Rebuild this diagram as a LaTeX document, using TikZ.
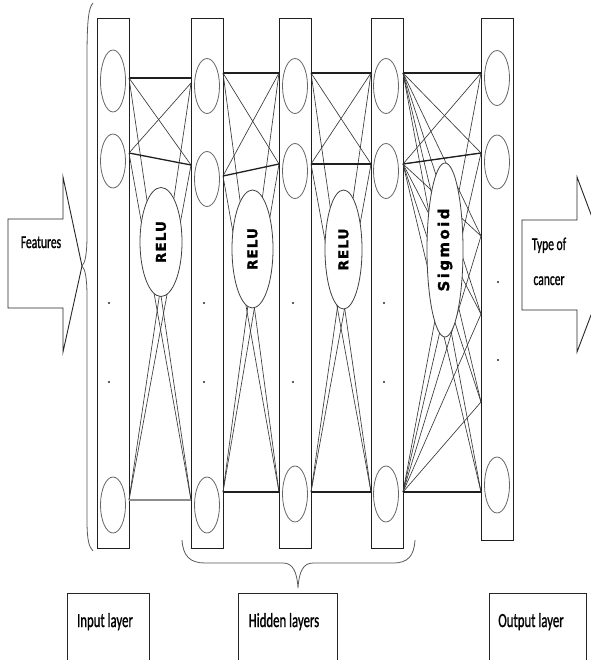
\documentclass[tikz,border=0pt]{standalone}
\usepackage{fontspec}
\usepackage{graphicx}
\usetikzlibrary{shapes.geometric}

% condensed label face and the spaced bold face for activation names
\newfontfamily\labelfont[FakeBold=1.4]{Carlito}
\newfontfamily\actfont[LetterSpace=8, FakeBold=1.2]{DejaVu Sans}
\newfontfamily\actfontwide[LetterSpace=16, FakeBold=1.2]{DejaVu Sans}
\newcommand{\lbl}[2][18]{\scalebox{0.64}[1]{\labelfont\fontsize{#1}{#1}\selectfont #2}}

\begin{document}
\begin{tikzpicture}[x=1pt,y=-1pt,
  colbox/.style={rectangle, draw=black!88, line width=0.9pt, inner sep=0pt, minimum width=32pt},
  neuron/.style={ellipse, draw=black!60, line width=0.8pt, inner sep=0pt, minimum width=25pt},
  act/.style={ellipse, draw=black!75, line width=0.8pt, fill=white, inner sep=0pt, rotate=90},
  link/.style={draw=black!78, line width=0.65pt},
  heavy/.style={draw=black!88, line width=1.3pt},
  dotmark/.style={circle, fill=black!85, inner sep=0pt, minimum size=2.2pt},
  brace/.style={draw=black!65, line width=0.8pt},
  boxed/.style={draw=black!85, line width=0.9pt},
  txt/.style={inner sep=0pt, anchor=base}]

\useasboundingbox (0,0) rectangle (590,660);

% ---------------- layer columns ----------------
\node[colbox, minimum height=530pt] (col1) at (113,283) {};
\node[colbox, minimum height=530pt] (col2) at (207,283) {};
\node[colbox, minimum height=530pt] (col3) at (295,283) {};
\node[colbox, minimum height=530pt] (col4) at (387,283) {};
\node[colbox, minimum height=522pt] (col5) at (497,279) {};

% ---------------- neurons ----------------
\node[neuron, minimum height=62pt] (n11) at (113,81) {};
\node[neuron, minimum height=54pt] (n12) at (113,161) {};
\node[neuron, minimum height=56pt] (n13) at (113,505) {};
\node[neuron, minimum height=55pt] (n21) at (207,86) {};
\node[neuron, minimum height=55pt] (n22) at (207,179) {};
\node[neuron, minimum height=56pt] (n23) at (207,505) {};
\node[neuron, minimum height=55pt] (n31) at (295,86) {};
\node[neuron, minimum height=55pt] (n32) at (295,171) {};
\node[neuron, minimum height=56pt] (n33) at (295,494) {};
\node[neuron, minimum height=55pt] (n41) at (386,86) {};
\node[neuron, minimum height=55pt] (n42) at (386,171) {};
\node[neuron, minimum height=56pt] (n43) at (386,494) {};
\node[neuron, minimum height=55pt] (n51) at (497,78) {};
\node[neuron, minimum height=54pt] (n52) at (497,162) {};
\node[neuron, minimum height=56pt] (n53) at (497,485) {};

% ellipsis dots inside the columns
\node[dotmark] (d11) at (109,303) {};
\node[dotmark] (d12) at (109,382) {};
\node[dotmark] (d21) at (204,303) {};
\node[dotmark] (d22) at (204,382) {};
\node[dotmark] (d31) at (293,303) {};
\node[dotmark] (d32) at (293,382) {};
\node[dotmark] (d41) at (384,303) {};
\node[dotmark] (d42) at (384,382) {};
\node[dotmark] (d51) at (498,282) {};
\node[dotmark] (d52) at (498,360) {};

% ---------------- connection ports on the column edges ----------------
\coordinate (a1) at (129,78);  \coordinate (a2) at (129,153); \coordinate (a3) at (129,500);
\coordinate (b0) at (191,78);  \coordinate (b1) at (191,83);  \coordinate (b2) at (191,165); \coordinate (b3) at (191,500);
\coordinate (c1) at (223,73);  \coordinate (c2) at (223,176); \coordinate (c3) at (223,492);
\coordinate (g1) at (279,73);  \coordinate (g2) at (279,164); \coordinate (g3) at (279,492);
\coordinate (h1) at (311,73);  \coordinate (h2) at (311,164); \coordinate (h3) at (311,492);
\coordinate (k1) at (371,73);  \coordinate (k2) at (371,164); \coordinate (k3) at (371,492);
\coordinate (e1) at (403,73);  \coordinate (e2) at (403,164); \coordinate (e3) at (403,492);
\coordinate (f1) at (481,73);  \coordinate (f2) at (481,153); \coordinate (f3) at (481,236);
\coordinate (f4) at (481,314); \coordinate (f5) at (481,402); \coordinate (f6) at (481,492);

% input -> hidden 1
\draw[link] (a1) -- (b2);
\draw[link] (a2) -- (b1);
\draw[link] (a1) -- (b3);
\draw[link] (a2) -- (b3);
\draw[link] (b1) -- (a3);
\draw[link] (b2) -- (a3);
\draw[heavy] (a1) -- (b0);
\draw[heavy] (a2) -- (b2);
\draw[draw=black!45, line width=2.6pt] (a3) -- (b3);

% hidden 1 -> hidden 2
\draw[link] (c1) -- (g2);
\draw[link] (c2) -- (g1);
\draw[link] (c1) -- (g3);
\draw[link] (c2) -- (g3);
\draw[link] (g1) -- (c3);
\draw[link] (g2) -- (c3);
\draw[heavy] (c1) -- (g1);
\draw[heavy] (c2) -- (g2);
\draw[heavy] (c3) -- (g3);

% hidden 2 -> hidden 3
\draw[link] (h1) -- (k2);
\draw[link] (h2) -- (k1);
\draw[link] (h1) -- (k3);
\draw[link] (h2) -- (k3);
\draw[link] (k1) -- (h3);
\draw[link] (k2) -- (h3);
\draw[heavy] (h1) -- (k1);
\draw[heavy] (h2) -- (k2);
\draw[heavy] (h3) -- (k3);

% hidden 3 -> output, fully connected
\foreach \s in {e1,e2,e3}
  \foreach \t in {f1,f2,f3,f4,f5,f6}
    \draw[link] (\s) -- (\t);
\draw[heavy] (e1) -- (f1);
\draw[heavy] (e2) -- (f2);
\draw[heavy] (e3) -- (f6);

% ---------------- activation functions ----------------
\node[act, minimum width=109pt, minimum height=42pt] (relu1) at (161,242)
  {\actfont\bfseries\fontsize{13.5}{13.5}\selectfont RELU};
\node[act, minimum width=118pt, minimum height=41pt] (relu2) at (252.5,249)
  {\actfont\bfseries\fontsize{13.5}{13.5}\selectfont RELU};
\node[act, minimum width=119pt, minimum height=37pt] (relu3) at (343.5,249.5)
  {\actfont\bfseries\fontsize{13.5}{13.5}\selectfont RELU};
\node[act, minimum width=174pt, minimum height=36pt] (sigm) at (445,250)
  {\actfontwide\bfseries\fontsize{15}{15}\selectfont Sigmoid};

% ---------------- input and output arrows ----------------
\draw[boxed] (8,219) -- (63,219) -- (63,177) -- (82,266) -- (63,352) -- (63,308) -- (8,308) -- cycle;
\node[txt] (feat) at (41,248) {\lbl{Features}};

\draw[boxed] (522,220) -- (577,220) -- (577,177) -- (610,265) -- (577,352) -- (577,310) -- (522,310) -- cycle;
\node[txt] (type1) at (549,250) {\lbl{Type of}};
\node[txt] (type2) at (549,285) {\lbl{cancer}};

% ---------------- braces ----------------
\draw[brace] (93,3) .. controls (88,8) and (87,25) .. (87,60) -- (87,235)
  .. controls (87,255) and (85,263) .. (82,266)
  .. controls (85,269) and (87,277) .. (87,297) -- (87,520)
  .. controls (87,540) and (89,547) .. (93,551);

\draw[brace] (182,540) .. controls (183,556) and (190,563) .. (205,563) -- (283,563)
  .. controls (293,563) and (297,572) .. (298,588)
  .. controls (299,572) and (303,563) .. (313,563) -- (393,563)
  .. controls (408,563) and (414,556) .. (415,540);

% ---------------- layer captions ----------------
\draw[boxed] (67,662) -- (67,593) -- (149,593) -- (149,662);
\node[txt] (lin) at (105,627) {\lbl[20]{Input layer}};
\draw[boxed] (238,662) -- (238,593) -- (337,593) -- (337,662);
\node[txt] (lhid) at (284,627) {\lbl[20]{Hidden layers}};
\draw[boxed] (489,662) -- (489,593) -- (586,593) -- (586,662);
\node[txt] (lout) at (531,627) {\lbl[20]{Output layer}};

\end{tikzpicture}
\end{document}
